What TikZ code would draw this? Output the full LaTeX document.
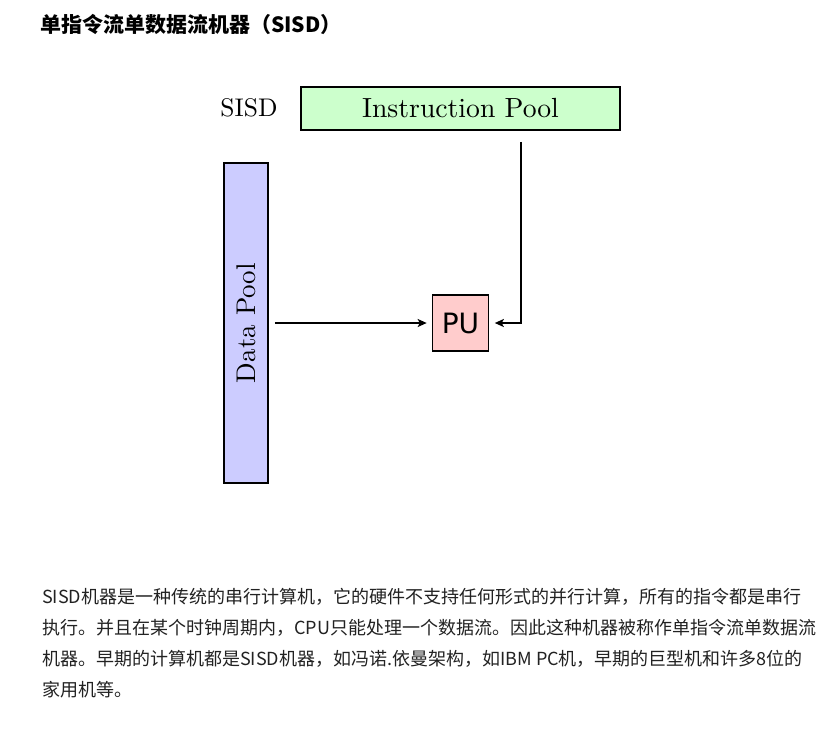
\documentclass[tikz,border=0pt]{standalone}
\usepackage{fontspec}
\newfontfamily\cjk{Noto Sans CJK SC}
\newfontfamily\dejavu{DejaVu Sans}
\newfontfamily\lmten{lmroman10-regular}[Extension=.otf]
\usetikzlibrary{arrows.meta}
\definecolor{ipgreen}{HTML}{CCFFCC}
\definecolor{dpblue}{HTML}{CCCCFF}
\definecolor{pupink}{HTML}{FFCCCC}
\definecolor{bodytext}{HTML}{222222}
\tikzset{
  poolbox/.style={draw=black, line width=1.6pt, inner sep=0pt},
  arr/.style={line width=1.6pt, -{Stealth[length=9pt,width=8pt,inset=2pt]}},
  bodyline/.style={anchor=base west, inner sep=0pt, text=bodytext, font=\cjk\fontsize{18}{31}\selectfont},
}
\begin{document}
\begin{tikzpicture}[x=1pt,y=-1pt]
\fill[white] (0,0) rectangle (837,732);
\useasboundingbox (0,0) rectangle (837,732);

\node[anchor=west, inner sep=0pt, font=\cjk\bfseries\fontsize{21}{25}\selectfont] (title) at (40,24) {单指令流单数据流机器（SISD）};

\node[poolbox, fill=ipgreen, minimum width=319pt, minimum height=43pt, font=\lmten\fontsize{27.7}{32}\selectfont] (ip) at (460.5,108.5) {Instruction Pool};
\node[inner sep=0pt, font=\lmten\fontsize{25.5}{30}\selectfont] (sisd) at (249,108) {SISD};

\node[poolbox, fill=dpblue, rotate=90, minimum width=320pt, minimum height=44pt, font=\lmten\fontsize{27}{32}\selectfont] (dp) at (246,323) {Data Pool};

\node[poolbox, fill=pupink, minimum width=56pt, minimum height=56pt, font=\dejavu\fontsize{28}{32}\selectfont] (pu) at (460.5,323) {PU};

\coordinate (corner) at (521,323);
\draw[arr, shorten <=6pt, shorten >=5pt] (dp.south) -- (pu.west);
\draw[arr, shorten <=11pt, shorten >=5.5pt] (ip.south -| corner) -- (corner) -- (pu.east);

\node[bodyline] (l1) at (42,603) {SISD机器是一种传统的串行计算机，它的硬件不支持任何形式的并行计算，所有的指令都是串行};
\node[bodyline] (l2) at (42,634) {执行。并且在某个时钟周期内，CPU只能处理一个数据流。因此这种机器被称作单指令流单数据流};
\node[bodyline] (l3) at (42,665) {机器。早期的计算机都是SISD机器，如冯诺.依曼架构，如IBM PC机，早期的巨型机和许多8位的};
\node[bodyline] (l4) at (42,696) {家用机等。};
\end{tikzpicture}
\end{document}
